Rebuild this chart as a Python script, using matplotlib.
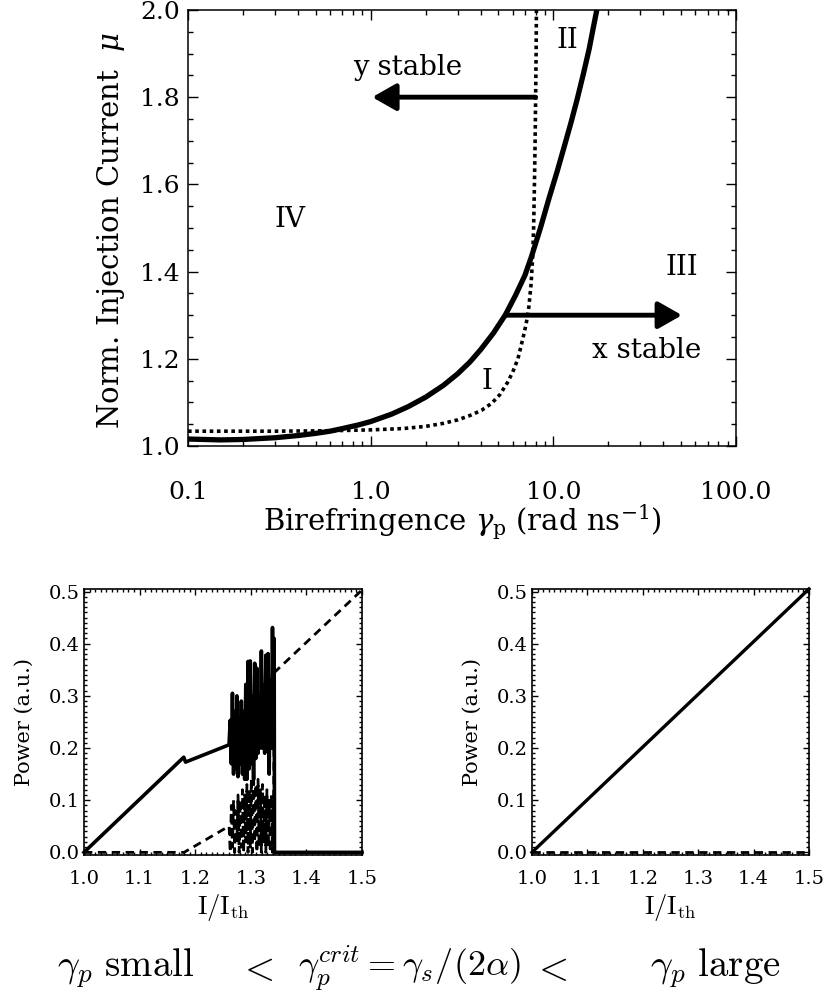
import numpy as np
import matplotlib
matplotlib.use("Agg")
import matplotlib.pyplot as plt
from matplotlib.ticker import MultipleLocator, FormatStrFormatter, LogLocator, NullFormatter

# ---- top panel: stability boundaries ----
gamma_solid = [0.10, 0.15, 0.20, 0.30, 0.40, 0.50, 0.60, 0.70, 0.85, 1.00, 1.30, 1.60,
               2.00, 2.50, 3.00, 3.50, 4.00, 4.70, 5.45, 6.20, 7.00, 7.60, 8.50, 9.50,
               10.5, 11.5, 12.5, 13.5, 14.6, 15.7, 16.6, 17.3, 17.6]
mu_solid = [1.016, 1.014, 1.015, 1.019, 1.024, 1.029, 1.034, 1.040, 1.048, 1.056, 1.073, 1.090,
            1.112, 1.139, 1.166, 1.193, 1.221, 1.259, 1.300, 1.345, 1.392, 1.435, 1.500, 1.570,
            1.630, 1.688, 1.742, 1.795, 1.853, 1.910, 1.962, 2.000, 2.020]

gamma_dot = [0.10, 0.30, 0.60, 1.00, 1.50, 2.00, 2.50, 3.00, 3.50, 4.05, 4.60, 5.10, 5.60,
             6.00, 6.40, 6.80, 7.10, 7.35, 7.55, 7.70, 7.80, 7.88, 7.95, 8.00, 8.05, 8.08, 8.10]
mu_dot = [1.034, 1.034, 1.035, 1.037, 1.040, 1.045, 1.052, 1.060, 1.070, 1.082, 1.098, 1.118, 1.145,
          1.170, 1.200, 1.245, 1.280, 1.320, 1.370, 1.430, 1.500, 1.600, 1.700, 1.800, 1.900, 2.000, 2.020]

region_labels = ["I", "II", "III", "IV"]
region_gamma = [4.33, 12.0, 50.6, 0.36]
region_mu = [1.149, 1.93, 1.41, 1.52]

# ---- bottom left: gamma_p small ----
xs_left = [1.0, 1.1795, 1.1826, 1.2605,
           1.261, 1.263, 1.265, 1.267, 1.269, 1.271, 1.273, 1.275, 1.277, 1.279, 1.281,
           1.283, 1.285, 1.287, 1.289, 1.291, 1.293, 1.295, 1.297, 1.299, 1.301, 1.303,
           1.305, 1.307, 1.309, 1.311, 1.313, 1.315, 1.317, 1.319, 1.321, 1.323, 1.325,
           1.327, 1.329, 1.331, 1.333, 1.335, 1.337, 1.339, 1.341, 1.342, 1.3426, 1.5]
px_left = [0.0, 0.1825, 0.173, 0.206,
           0.21, 0.253, 0.17, 0.305, 0.15, 0.27, 0.16, 0.30, 0.145, 0.26, 0.17,
           0.29, 0.15, 0.27, 0.14, 0.322, 0.14, 0.366, 0.16, 0.367, 0.17, 0.30,
           0.14, 0.3625, 0.18, 0.353, 0.19, 0.30, 0.20, 0.386, 0.20, 0.32, 0.19,
           0.378, 0.20, 0.381, 0.15, 0.33, 0.20, 0.431, 0.20, 0.41, 0.0, 0.0]

ys_left = [1.0, 1.18, 1.2605,
           1.261, 1.263, 1.265, 1.267, 1.269, 1.271, 1.273, 1.275, 1.277, 1.279, 1.281,
           1.283, 1.285, 1.287, 1.289, 1.291, 1.293, 1.295, 1.297, 1.299, 1.301, 1.303,
           1.305, 1.307, 1.309, 1.311, 1.313, 1.315, 1.317, 1.319, 1.321, 1.323, 1.325,
           1.327, 1.329, 1.331, 1.333, 1.335, 1.337, 1.339, 1.341, 1.3426, 1.5]
py_left = [0.0, 0.0, 0.05,
           0.05, 0.0, 0.09, 0.01, 0.10, 0.0, 0.08, 0.02, 0.11, 0.0, 0.10,
           0.01, 0.12, 0.0, 0.11, 0.02, 0.13, 0.0, 0.12, 0.01, 0.14, 0.0,
           0.15, 0.02, 0.13, 0.0, 0.14, 0.01, 0.12, 0.0, 0.13, 0.02, 0.11,
           0.0, 0.12, 0.01, 0.10, 0.0, 0.11, 0.0, 0.09, 0.345, 0.503]

# ---- bottom right: gamma_p large ----
xs_right = [1.0, 1.5]
px_right = [0.0, 0.505]
ys_right = [1.0, 1.5]
py_right = [0.0, 0.0]

top_font = "DejaVu Serif"
bot_font = "DejaVu Serif"
plt.rcParams["axes.formatter.use_mathtext"] = True

fig = plt.figure(figsize=(8.25, 9.96), dpi=100)

# top panel
ax = fig.add_axes([0.2279, 0.5522, 0.6642, 0.4378])
ax.plot(gamma_solid, mu_solid, color="k", lw=3.8, solid_capstyle="butt")
ax.plot(gamma_dot, mu_dot, color="k", lw=2.6, linestyle=(0, (1, 1)))
ax.set_xscale("log")
ax.set_xlim(0.1, 100)
ax.set_ylim(1.0, 2.0)
ax.set_xticks([0.1, 1, 10, 100], labels=["0.1", "1.0", "10.0", "100.0"])
ax.xaxis.set_minor_locator(LogLocator(base=10, subs=np.arange(2, 10)))
ax.xaxis.set_minor_formatter(NullFormatter())
ax.yaxis.set_major_locator(MultipleLocator(0.2))
ax.yaxis.set_minor_locator(MultipleLocator(0.05))
ax.yaxis.set_major_formatter(FormatStrFormatter("%.1f"))
ax.tick_params(which="both", direction="in", top=True, right=True, width=1)
ax.tick_params(which="major", length=7)
ax.tick_params(which="minor", length=3.5)
ax.tick_params(axis="x", which="major", pad=25)
ax.tick_params(axis="y", which="major", pad=6)
for lab in ax.get_xticklabels() + ax.get_yticklabels():
    lab.set_fontfamily(top_font)
    lab.set_fontsize(18)
for sp in ax.spines.values():
    sp.set_linewidth(1.1)

ax.set_xlabel(r"Birefringence $\gamma_{\rm p}$ (rad ns$^{-1}$)", fontfamily=top_font,
              fontsize=21, math_fontfamily="dejavuserif")
ax.xaxis.set_label_coords(0.5, -0.13)
ax.xaxis.label.set_va("top")
ax.set_ylabel(r"Norm. Injection Current  $\mu$", fontfamily=top_font, fontsize=21,
              math_fontfamily="dejavuserif")
ax.yaxis.set_label_coords(-0.14, 0.495)
ax.yaxis.label.set_va("center")

for lab, g, m in zip(region_labels, region_gamma, region_mu):
    ax.text(g, m, lab, fontfamily=top_font, fontsize=20, ha="center", va="center")

arrow = dict(arrowstyle="-|>,head_length=0.72,head_width=0.41", lw=3.5, color="k",
             shrinkA=0, shrinkB=0, mutation_scale=20)
ax.annotate("", xy=(1.02, 1.80), xytext=(8.0, 1.80), arrowprops=arrow)
ax.annotate("", xy=(50.6, 1.30), xytext=(5.45, 1.30), arrowprops=arrow)
ax.text(1.6, 1.867, "y stable", fontfamily=top_font, fontsize=20, ha="center", va="center")
ax.text(32.5, 1.22, "x stable", fontfamily=top_font, fontsize=20, ha="center", va="center")

# bottom panels
def power_axes(rect):
    a = fig.add_axes(rect)
    a.set_xlim(1.0, 1.5)
    a.set_ylim(-0.005, 0.505)
    a.xaxis.set_major_locator(MultipleLocator(0.1))
    a.xaxis.set_minor_locator(MultipleLocator(0.01))
    a.yaxis.set_major_locator(MultipleLocator(0.1))
    a.yaxis.set_minor_locator(MultipleLocator(0.01))
    a.xaxis.set_major_formatter(FormatStrFormatter("%.1f"))
    a.yaxis.set_major_formatter(FormatStrFormatter("%.1f"))
    a.tick_params(which="both", direction="in", top=True, right=True, width=1)
    a.tick_params(which="major", length=4)
    a.tick_params(which="minor", length=2)
    a.tick_params(axis="x", which="major", pad=11)
    a.tick_params(axis="y", which="major", pad=3)
    for lab in a.get_xticklabels() + a.get_yticklabels():
        lab.set_fontfamily(bot_font)
        lab.set_fontsize(14)
    for sp in a.spines.values():
        sp.set_linewidth(1.2)
    a.set_ylabel("Power (a.u.)", fontfamily=bot_font, fontsize=15)
    a.yaxis.set_label_coords(-0.215, 0.5)
    a.yaxis.label.set_va("center")
    a.set_xlabel(r"I/I$_{\rm th}$", fontfamily="cmr10", fontsize=19, math_fontfamily="cm")
    a.xaxis.set_label_coords(0.5, -0.14)
    a.xaxis.label.set_va("top")
    return a

axl = power_axes([0.1018, 0.1416, 0.337, 0.2671])
axl.plot(ys_left, py_left, color="k", lw=2.0, linestyle=(0, (3, 2)), clip_on=False)
axl.plot(xs_left, px_left, color="k", lw=2.6, clip_on=False)

axr = power_axes([0.6448, 0.1416, 0.3358, 0.2671])
axr.plot(ys_right, py_right, color="k", lw=2.0, linestyle=(0, (3, 2)), clip_on=False)
axr.plot(xs_right, px_right, color="k", lw=2.4, clip_on=False)

# bottom formula
fy = 0.028
fs = 28
fig.text(57 / 825, fy, r"$\gamma_p\ \mathrm{small}$", fontsize=fs, ha="left", va="center",
         math_fontfamily="cm")
fig.text(238 / 825, fy, r"$<$", fontsize=fs, ha="left", va="center", math_fontfamily="cm")
fig.text(298 / 825, fy, r"$\gamma_p^{crit}=\gamma_s/(2\alpha)$", fontsize=26, ha="left",
         va="center", math_fontfamily="cm")
fig.text(532 / 825, fy, r"$<$", fontsize=fs, ha="left", va="center", math_fontfamily="cm")
fig.text(650 / 825, fy, r"$\gamma_p\ \mathrm{large}$", fontsize=fs, ha="left", va="center",
         math_fontfamily="cm")

fig.savefig("out.png", dpi=100)
